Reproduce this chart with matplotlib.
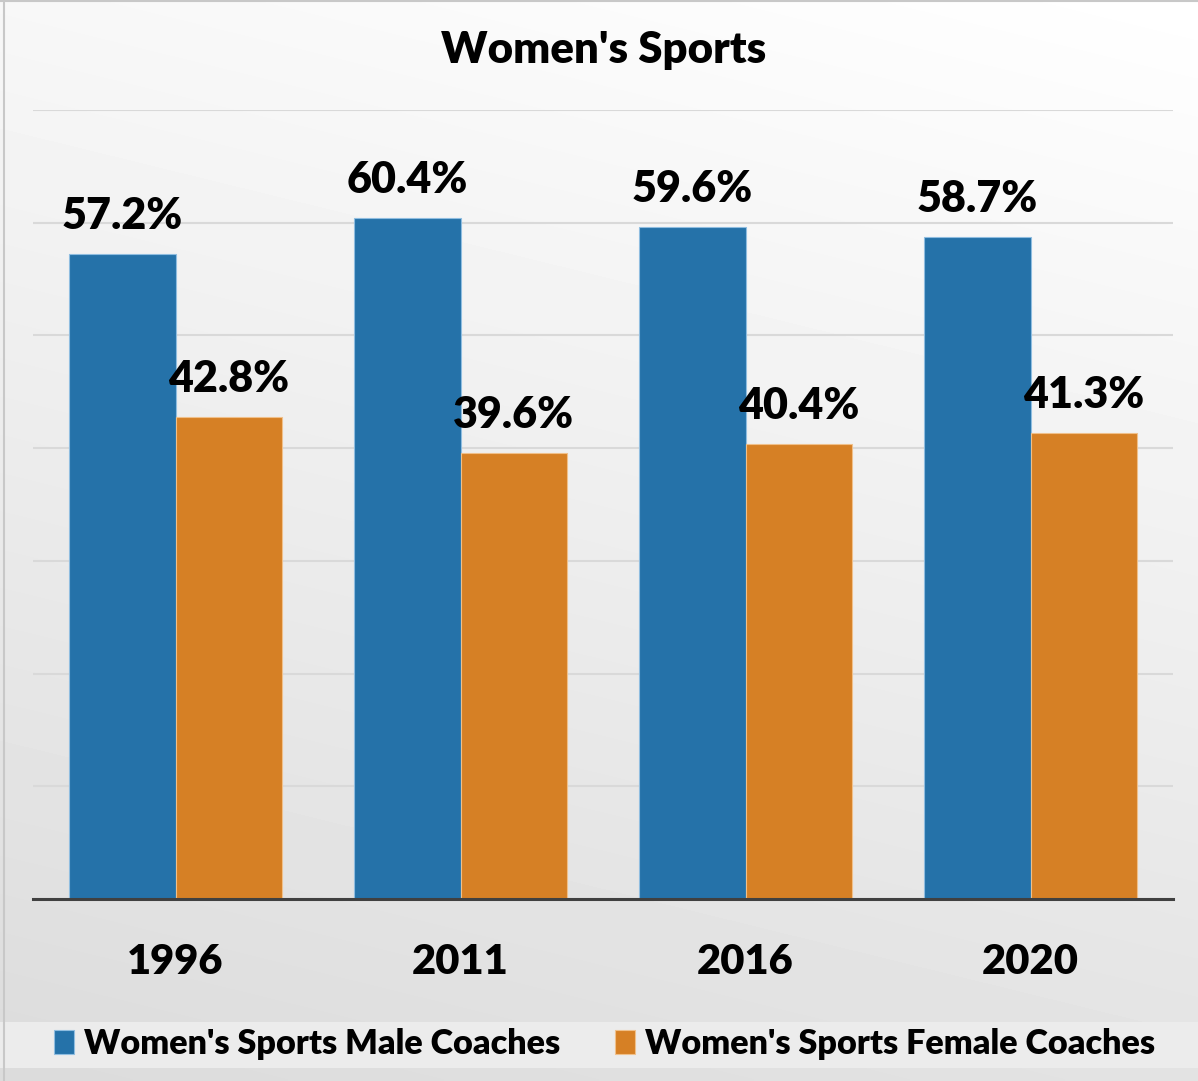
import matplotlib
matplotlib.use('Agg')
import matplotlib.pyplot as plt
import numpy as np
from matplotlib.patches import Rectangle, Patch

# ---- data ----
years = ['1996', '2011', '2016', '2020']
male = [57.2, 60.4, 59.6, 58.7]
female = [42.8, 39.6, 40.4, 41.3]
series_names = ["Women's Sports Male Coaches", "Women's Sports Female Coaches"]
title = "Women's Sports"

BLUE = '#2572A9'
ORANGE = '#D68025'
WT = 'heavy'

plt.rcParams['font.family'] = ['Lato', 'DejaVu Sans']
plt.rcParams['font.weight'] = WT

W, H = 1198, 1081
fig = plt.figure(figsize=(W / 100, H / 100), dpi=100)

# background gradient
bg = fig.add_axes([0, 0, 1, 1], zorder=-10)
ny, nx = 300, 300
yy, xx = np.mgrid[0:1:ny * 1j, 0:1:nx * 1j]
v = 1 - (0.11 * yy + 0.03 * (1 - xx))
bg.imshow(v, cmap='gray', vmin=0, vmax=1, extent=[0, 1, 0, 1], aspect='auto',
          interpolation='bilinear')
bg.add_patch(Rectangle((0, 1 - 1068 / H), 1, 46 / H, color='#ececec', lw=0))
bg.plot([4 / W, 4 / W], [0, 1], color='#c8c8c8', lw=1.5)
bg.plot([0, 1], [1 - 1 / H, 1 - 1 / H], color='#c8c8c8', lw=1.5)
bg.set_xlim(0, 1)
bg.set_ylim(0, 1)
bg.axis('off')

ax = fig.add_axes([33 / W, 1 - 899 / H, 1140 / W, 789 / H])
ax.set_facecolor('none')
x = np.arange(len(years))
w = 0.375
b1 = ax.bar(x - w / 2, male, width=w, color=BLUE, edgecolor='#8fbde0', linewidth=0.8, zorder=3)
b2 = ax.bar(x + w / 2, female, width=w, color=ORANGE, edgecolor='#f0c08a', linewidth=0.8, zorder=3)

for bars, vals in ((b1, male), (b2, female)):
    for rect, val in zip(bars, vals):
        ax.annotate(f'{val}%', (rect.get_x() + rect.get_width() / 2, val),
                    xytext=(0, 18), textcoords='offset points',
                    ha='center', va='baseline', fontsize=31, fontweight=WT,
                    color='black', zorder=5)

ax.set_xlim(-0.5, 3.5)
ax.set_ylim(0, 70)
ax.set_yticks(np.arange(0, 71, 10))
ax.yaxis.grid(True, color='#d9d9d9', linewidth=1.5, zorder=0)
ax.tick_params(axis='y', length=0, labelleft=False)
ax.set_xticks(x)
ax.set_xticklabels(years, fontsize=30, fontweight=WT)
ax.tick_params(axis='x', length=0, pad=32)
for s in ('top', 'right', 'left'):
    ax.spines[s].set_visible(False)
ax.spines['bottom'].set_color('#404040')
ax.spines['bottom'].set_linewidth(2.2)
ax.spines['bottom'].set_zorder(4)
ax.set_axisbelow(True)

fig.text(604 / W, 1 - 50 / H, title, ha='center', va='center', fontsize=31.5,
         fontweight=WT)

handles = [Patch(facecolor=BLUE, edgecolor='#8fbde0', lw=0.8),
           Patch(facecolor=ORANGE, edgecolor='#f0c08a', lw=0.8)]
fig.legend(handles, series_names, loc='center', bbox_to_anchor=(605 / W, 1 - 1044 / H),
           ncol=2, frameon=False, handlelength=0.58, handleheight=0.72,
           handletextpad=0.3, columnspacing=1.6, prop={'size': 24.6, 'weight': WT})

fig.savefig('out.png', dpi=100)
